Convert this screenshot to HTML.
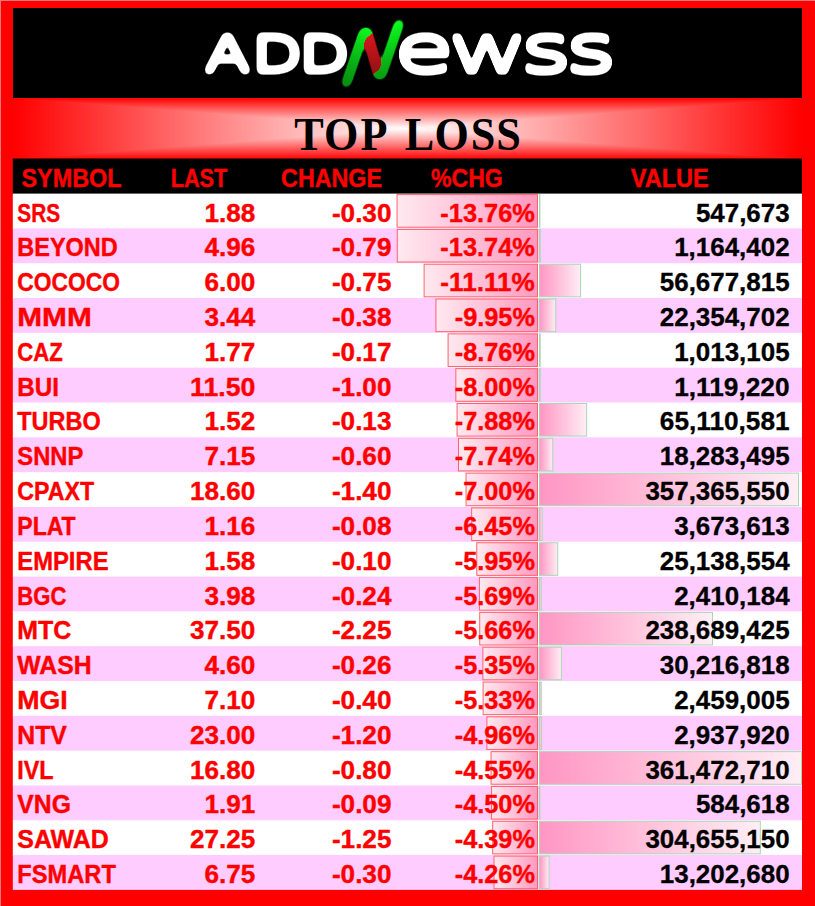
<!DOCTYPE html>
<html lang="en"><head><meta charset="utf-8"><title>ADDNewss - TOP LOSS</title>
<style>
html,body{margin:0;padding:0;background:#fe0000;}
body{width:815px;height:906px;overflow:hidden;}
svg{display:block;}
.c{font-family:"Liberation Sans",Arial,sans-serif;font-weight:bold;font-size:25.3px;}
.r{fill:#ff0000;stroke:#ff0000;stroke-width:0.4px;}.k{fill:#000;stroke:#000;stroke-width:0.3px;}
.t{font-family:"Liberation Serif","Times New Roman",serif;font-weight:bold;}
</style></head><body>
<svg width="815" height="906" viewBox="0 0 815 906">
<defs>
<linearGradient id="gh" x1="0" y1="0" x2="1" y2="0"><stop offset="0" stop-color="#ff0000"/><stop offset="0.5" stop-color="#ffffff"/><stop offset="1" stop-color="#ff0000"/></linearGradient>
<linearGradient id="gv" x1="0" y1="0" x2="0" y2="1"><stop offset="0" stop-color="#ff0000"/><stop offset="0.5" stop-color="#ffffff"/><stop offset="1" stop-color="#ff0000"/></linearGradient>
<linearGradient id="pb" x1="0" y1="0" x2="1" y2="0"><stop offset="0" stop-color="#ffe9f0"/><stop offset="1" stop-color="#ff99c0"/></linearGradient>
<linearGradient id="vb" x1="0" y1="0" x2="1" y2="0"><stop offset="0" stop-color="#ff96c3"/><stop offset="1" stop-color="#ffeef5"/></linearGradient>
<linearGradient id="ng" gradientUnits="userSpaceOnUse" x1="0" y1="0" x2="100" y2="0"><stop offset="0" stop-color="#10f01a"/><stop offset="0.16" stop-color="#10f01a"/><stop offset="0.175" stop-color="#eb1a2b"/><stop offset="0.365" stop-color="#eb1a2b"/><stop offset="0.38" stop-color="#10f01a"/><stop offset="1" stop-color="#10f01a"/></linearGradient>
<filter id="fata" filterUnits="userSpaceOnUse" x="190" y="10" width="170" height="86" color-interpolation-filters="sRGB"><feGaussianBlur in="SourceGraphic" stdDeviation="2.2 2.7"/><feComponentTransfer><feFuncA type="linear" slope="10" intercept="-0.78"/></feComponentTransfer></filter>
<filter id="fate" filterUnits="userSpaceOnUse" x="385" y="10" width="245" height="86" color-interpolation-filters="sRGB"><feGaussianBlur in="SourceGraphic" stdDeviation="1.35 2.4"/><feComponentTransfer><feFuncA type="linear" slope="10" intercept="-0.78"/></feComponentTransfer></filter>
<filter id="fatn" filterUnits="userSpaceOnUse" x="320" y="8" width="110" height="90" color-interpolation-filters="sRGB"><feGaussianBlur in="SourceGraphic" stdDeviation="3" result="b"/><feComponentTransfer in="b" result="c"><feFuncR type="table" tableValues="0.05 0.05 0.05 0.05 0.05 0.05 0.05 0.05 0.92 0.92 0.92 0.92 0.92 0.92 0.92 0.92 0.92 0.92 0.92 0.92 0.92"/><feFuncG type="table" tableValues="0.10 0.10 0.10 0.10 0.10 0.10 0.10 0.10 0.10 0.10 0.10 0.10 0.10 1.0 1.0 1.0 1.0 1.0 1.0 1.0 1.0"/><feFuncB type="linear" slope="0" intercept="0.12"/><feFuncA type="linear" slope="10" intercept="-0.98"/></feComponentTransfer><feDiffuseLighting in="b" surfaceScale="0" diffuseConstant="1.25" lighting-color="#ffffff" result="L"><fePointLight x="375" y="-10" z="50"/></feDiffuseLighting><feComposite in="c" in2="L" operator="arithmetic" k1="1" k2="0" k3="0" k4="0"/></filter>
</defs>
<rect width="815" height="906" fill="#fe0000"/>
<rect width="815" height="1" fill="#ec7878"/><rect width="1" height="906" fill="#ec7878"/>
<rect x="13" y="8" width="789" height="90" fill="#000"/>
<g filter="url(#fata)" fill="#fff" font-family="&quot;DejaVu Sans&quot;,&quot;Liberation Sans&quot;,sans-serif" font-weight="200">
<text transform="translate(0,71.3) scale(1.33,1)" x="154.59 189.7 225.26" y="0" font-size="48.4" stroke="#fff" stroke-width="1.5" stroke-linejoin="round">ADD</text>
</g>
<g filter="url(#fatn)" font-family="&quot;DejaVu Sans&quot;,&quot;Liberation Sans&quot;,sans-serif" font-weight="200">
<text transform="matrix(1.1089 -0.2764 -0.344 1 333.58 88.32)" x="0" y="0" font-size="74.9" fill="url(#ng)">N</text>
</g>
<g filter="url(#fate)" fill="#fff" font-family="&quot;DejaVu Sans&quot;,&quot;Liberation Sans&quot;,sans-serif" font-weight="200">
<text transform="translate(0,70.5) scale(1.585,1)" x="248.58 282.78 328.39 356.72" y="0" font-size="61.8" stroke="#fff" stroke-width="1.5" stroke-linejoin="round">ewss</text>
</g>
<g>
<g style="isolation:isolate"><rect x="13" y="98" width="789" height="61.3" fill="url(#gh)"/>
<rect x="13" y="98" width="789" height="61.3" fill="url(#gv)" style="mix-blend-mode:darken"/></g>
<text class="t" fill="#000" transform="translate(0,150.1) scale(0.96,1.025)" x="306.46 337.4 375.47 408.33 421.51 452.71 490.36 517.03" y="0" font-size="46">TOP LOSS</text>
</g>
<rect x="12.8" y="158.5" width="789.2" height="35.9" fill="#000"/>
<text class="c r" x="21.43" y="186.8" textLength="100.13" lengthAdjust="spacingAndGlyphs">SYMBOL</text>
<text class="c r" x="170.66" y="186.8" textLength="56.69" lengthAdjust="spacingAndGlyphs">LAST</text>
<text class="c r" x="281.09" y="186.8" textLength="100.83" lengthAdjust="spacingAndGlyphs">CHANGE</text>
<text class="c r" x="431.03" y="186.8" textLength="71.73" lengthAdjust="spacingAndGlyphs">%CHG</text>
<text class="c r" x="630.78" y="186.8" textLength="78.03" lengthAdjust="spacingAndGlyphs">VALUE</text>
<g>
<rect x="12.8" y="193.6" width="789.2" height="35.61" fill="#ffffff"/>
<rect x="397.05" y="194.6" width="140.45" height="32.61" fill="url(#pb)" stroke="#ff626a" stroke-width="1"/>
<rect x="539.5" y="194.6" width="0.4" height="32.61" fill="url(#vb)" stroke="#a9d8b4" stroke-width="1"/>
<text class="c r" x="17.3" y="221.6" textLength="42.84" lengthAdjust="spacingAndGlyphs">SRS</text>
<text class="c r" x="204.53" y="221.6" textLength="50.77" lengthAdjust="spacingAndGlyphs">1.88</text>
<text class="c r" x="331.94" y="221.6" textLength="59.46" lengthAdjust="spacingAndGlyphs">-0.30</text>
<text class="c r" x="440.34" y="221.6" textLength="94.56" lengthAdjust="spacingAndGlyphs">-13.76%</text>
<text class="c k" x="695.91" y="221.6" textLength="93.69" lengthAdjust="spacingAndGlyphs">547,673</text>
</g>
<g>
<rect x="12.8" y="228.41" width="789.2" height="35.61" fill="#ffccff"/>
<rect x="397.25" y="229.41" width="140.25" height="32.61" fill="url(#pb)" stroke="#ff626a" stroke-width="1"/>
<rect x="539.5" y="229.41" width="0.84" height="32.61" fill="url(#vb)" stroke="#a9d8b4" stroke-width="1"/>
<text class="c r" x="17.3" y="256.41" textLength="100.37" lengthAdjust="spacingAndGlyphs">BEYOND</text>
<text class="c r" x="204.53" y="256.41" textLength="50.77" lengthAdjust="spacingAndGlyphs">4.96</text>
<text class="c r" x="331.94" y="256.41" textLength="59.46" lengthAdjust="spacingAndGlyphs">-0.79</text>
<text class="c r" x="440.34" y="256.41" textLength="94.56" lengthAdjust="spacingAndGlyphs">-13.74%</text>
<text class="c k" x="674.2" y="256.41" textLength="115.4" lengthAdjust="spacingAndGlyphs">1,164,402</text>
</g>
<g>
<rect x="12.8" y="263.23" width="789.2" height="35.61" fill="#ffffff"/>
<rect x="424.1" y="264.23" width="113.4" height="32.61" fill="url(#pb)" stroke="#ff626a" stroke-width="1"/>
<rect x="539.5" y="264.23" width="41.08" height="32.61" fill="url(#vb)" stroke="#a9d8b4" stroke-width="1"/>
<text class="c r" x="17.3" y="291.23" textLength="102.67" lengthAdjust="spacingAndGlyphs">COCOCO</text>
<text class="c r" x="204.53" y="291.23" textLength="50.77" lengthAdjust="spacingAndGlyphs">6.00</text>
<text class="c r" x="331.94" y="291.23" textLength="59.46" lengthAdjust="spacingAndGlyphs">-0.75</text>
<text class="c r" x="440.34" y="291.23" textLength="94.56" lengthAdjust="spacingAndGlyphs">-11.11%</text>
<text class="c k" x="659.8" y="291.23" textLength="129.8" lengthAdjust="spacingAndGlyphs">56,677,815</text>
</g>
<g>
<rect x="12.8" y="298.04" width="789.2" height="35.61" fill="#ffccff"/>
<rect x="435.94" y="299.04" width="101.56" height="32.61" fill="url(#pb)" stroke="#ff626a" stroke-width="1"/>
<rect x="539.5" y="299.04" width="16.2" height="32.61" fill="url(#vb)" stroke="#a9d8b4" stroke-width="1"/>
<text class="c r" x="17.3" y="326.04" textLength="74.47" lengthAdjust="spacingAndGlyphs">MMM</text>
<text class="c r" x="204.53" y="326.04" textLength="50.77" lengthAdjust="spacingAndGlyphs">3.44</text>
<text class="c r" x="331.94" y="326.04" textLength="59.46" lengthAdjust="spacingAndGlyphs">-0.38</text>
<text class="c r" x="454.73" y="326.04" textLength="80.17" lengthAdjust="spacingAndGlyphs">-9.95%</text>
<text class="c k" x="659.8" y="326.04" textLength="129.8" lengthAdjust="spacingAndGlyphs">22,354,702</text>
</g>
<g>
<rect x="12.8" y="332.86" width="789.2" height="35.61" fill="#ffffff"/>
<rect x="448.09" y="333.86" width="89.41" height="32.61" fill="url(#pb)" stroke="#ff626a" stroke-width="1"/>
<rect x="539.5" y="333.86" width="0.73" height="32.61" fill="url(#vb)" stroke="#a9d8b4" stroke-width="1"/>
<text class="c r" x="17.3" y="360.86" textLength="45.48" lengthAdjust="spacingAndGlyphs">CAZ</text>
<text class="c r" x="204.53" y="360.86" textLength="50.77" lengthAdjust="spacingAndGlyphs">1.77</text>
<text class="c r" x="331.94" y="360.86" textLength="59.46" lengthAdjust="spacingAndGlyphs">-0.17</text>
<text class="c r" x="454.73" y="360.86" textLength="80.17" lengthAdjust="spacingAndGlyphs">-8.76%</text>
<text class="c k" x="674.2" y="360.86" textLength="115.4" lengthAdjust="spacingAndGlyphs">1,013,105</text>
</g>
<g>
<rect x="12.8" y="367.67" width="789.2" height="35.61" fill="#ffccff"/>
<rect x="455.84" y="368.67" width="81.66" height="32.61" fill="url(#pb)" stroke="#ff626a" stroke-width="1"/>
<rect x="539.5" y="368.67" width="0.81" height="32.61" fill="url(#vb)" stroke="#a9d8b4" stroke-width="1"/>
<text class="c r" x="17.3" y="395.67" textLength="41.71" lengthAdjust="spacingAndGlyphs">BUI</text>
<text class="c r" x="190.14" y="395.67" textLength="65.16" lengthAdjust="spacingAndGlyphs">11.50</text>
<text class="c r" x="331.94" y="395.67" textLength="59.46" lengthAdjust="spacingAndGlyphs">-1.00</text>
<text class="c r" x="454.73" y="395.67" textLength="80.17" lengthAdjust="spacingAndGlyphs">-8.00%</text>
<text class="c k" x="674.2" y="395.67" textLength="115.4" lengthAdjust="spacingAndGlyphs">1,119,220</text>
</g>
<g>
<rect x="12.8" y="402.49" width="789.2" height="35.61" fill="#ffffff"/>
<rect x="457.07" y="403.49" width="80.43" height="32.61" fill="url(#pb)" stroke="#ff626a" stroke-width="1"/>
<rect x="539.5" y="403.49" width="47.19" height="32.61" fill="url(#vb)" stroke="#a9d8b4" stroke-width="1"/>
<text class="c r" x="17.3" y="430.49" textLength="83.38" lengthAdjust="spacingAndGlyphs">TURBO</text>
<text class="c r" x="204.53" y="430.49" textLength="50.77" lengthAdjust="spacingAndGlyphs">1.52</text>
<text class="c r" x="331.94" y="430.49" textLength="59.46" lengthAdjust="spacingAndGlyphs">-0.13</text>
<text class="c r" x="454.73" y="430.49" textLength="80.17" lengthAdjust="spacingAndGlyphs">-7.88%</text>
<text class="c k" x="659.8" y="430.49" textLength="129.8" lengthAdjust="spacingAndGlyphs">65,110,581</text>
</g>
<g>
<rect x="12.8" y="437.3" width="789.2" height="35.61" fill="#ffccff"/>
<rect x="458.5" y="438.3" width="79" height="32.61" fill="url(#pb)" stroke="#ff626a" stroke-width="1"/>
<rect x="539.5" y="438.3" width="13.25" height="32.61" fill="url(#vb)" stroke="#a9d8b4" stroke-width="1"/>
<text class="c r" x="17.3" y="465.3" textLength="66.01" lengthAdjust="spacingAndGlyphs">SNNP</text>
<text class="c r" x="204.53" y="465.3" textLength="50.77" lengthAdjust="spacingAndGlyphs">7.15</text>
<text class="c r" x="331.94" y="465.3" textLength="59.46" lengthAdjust="spacingAndGlyphs">-0.60</text>
<text class="c r" x="454.73" y="465.3" textLength="80.17" lengthAdjust="spacingAndGlyphs">-7.74%</text>
<text class="c k" x="659.8" y="465.3" textLength="129.8" lengthAdjust="spacingAndGlyphs">18,283,495</text>
</g>
<g>
<rect x="12.8" y="472.12" width="789.2" height="35.61" fill="#ffffff"/>
<rect x="466.05" y="473.12" width="71.45" height="32.61" fill="url(#pb)" stroke="#ff626a" stroke-width="1"/>
<rect x="539.5" y="473.12" width="259.02" height="32.61" fill="url(#vb)" stroke="#a9d8b4" stroke-width="1"/>
<text class="c r" x="17.3" y="500.12" textLength="76.74" lengthAdjust="spacingAndGlyphs">CPAXT</text>
<text class="c r" x="190.14" y="500.12" textLength="65.16" lengthAdjust="spacingAndGlyphs">18.60</text>
<text class="c r" x="331.94" y="500.12" textLength="59.46" lengthAdjust="spacingAndGlyphs">-1.40</text>
<text class="c r" x="454.73" y="500.12" textLength="80.17" lengthAdjust="spacingAndGlyphs">-7.00%</text>
<text class="c k" x="645.41" y="500.12" textLength="144.19" lengthAdjust="spacingAndGlyphs">357,365,550</text>
</g>
<g>
<rect x="12.8" y="506.93" width="789.2" height="35.61" fill="#ffccff"/>
<rect x="471.66" y="507.93" width="65.84" height="32.61" fill="url(#pb)" stroke="#ff626a" stroke-width="1"/>
<rect x="539.5" y="507.93" width="2.66" height="32.61" fill="url(#vb)" stroke="#a9d8b4" stroke-width="1"/>
<text class="c r" x="17.3" y="534.93" textLength="58.38" lengthAdjust="spacingAndGlyphs">PLAT</text>
<text class="c r" x="204.53" y="534.93" textLength="50.77" lengthAdjust="spacingAndGlyphs">1.16</text>
<text class="c r" x="331.94" y="534.93" textLength="59.46" lengthAdjust="spacingAndGlyphs">-0.08</text>
<text class="c r" x="454.73" y="534.93" textLength="80.17" lengthAdjust="spacingAndGlyphs">-6.45%</text>
<text class="c k" x="674.2" y="534.93" textLength="115.4" lengthAdjust="spacingAndGlyphs">3,673,613</text>
</g>
<g>
<rect x="12.8" y="541.75" width="789.2" height="35.61" fill="#ffffff"/>
<rect x="476.77" y="542.75" width="60.73" height="32.61" fill="url(#pb)" stroke="#ff626a" stroke-width="1"/>
<rect x="539.5" y="542.75" width="18.22" height="32.61" fill="url(#vb)" stroke="#a9d8b4" stroke-width="1"/>
<text class="c r" x="17.3" y="569.75" textLength="91.23" lengthAdjust="spacingAndGlyphs">EMPIRE</text>
<text class="c r" x="204.53" y="569.75" textLength="50.77" lengthAdjust="spacingAndGlyphs">1.58</text>
<text class="c r" x="331.94" y="569.75" textLength="59.46" lengthAdjust="spacingAndGlyphs">-0.10</text>
<text class="c r" x="454.73" y="569.75" textLength="80.17" lengthAdjust="spacingAndGlyphs">-5.95%</text>
<text class="c k" x="659.8" y="569.75" textLength="129.8" lengthAdjust="spacingAndGlyphs">25,138,554</text>
</g>
<g>
<rect x="12.8" y="576.56" width="789.2" height="35.61" fill="#ffccff"/>
<rect x="479.42" y="577.56" width="58.08" height="32.61" fill="url(#pb)" stroke="#ff626a" stroke-width="1"/>
<rect x="539.5" y="577.56" width="1.75" height="32.61" fill="url(#vb)" stroke="#a9d8b4" stroke-width="1"/>
<text class="c r" x="17.3" y="604.56" textLength="49.05" lengthAdjust="spacingAndGlyphs">BGC</text>
<text class="c r" x="204.53" y="604.56" textLength="50.77" lengthAdjust="spacingAndGlyphs">3.98</text>
<text class="c r" x="331.94" y="604.56" textLength="59.46" lengthAdjust="spacingAndGlyphs">-0.24</text>
<text class="c r" x="454.73" y="604.56" textLength="80.17" lengthAdjust="spacingAndGlyphs">-5.69%</text>
<text class="c k" x="674.2" y="604.56" textLength="115.4" lengthAdjust="spacingAndGlyphs">2,410,184</text>
</g>
<g>
<rect x="12.8" y="611.38" width="789.2" height="35.61" fill="#ffffff"/>
<rect x="479.73" y="612.38" width="57.77" height="32.61" fill="url(#pb)" stroke="#ff626a" stroke-width="1"/>
<rect x="539.5" y="612.38" width="173.01" height="32.61" fill="url(#vb)" stroke="#a9d8b4" stroke-width="1"/>
<text class="c r" x="17.3" y="639.38" textLength="53.92" lengthAdjust="spacingAndGlyphs">MTC</text>
<text class="c r" x="190.14" y="639.38" textLength="65.16" lengthAdjust="spacingAndGlyphs">37.50</text>
<text class="c r" x="331.94" y="639.38" textLength="59.46" lengthAdjust="spacingAndGlyphs">-2.25</text>
<text class="c r" x="454.73" y="639.38" textLength="80.17" lengthAdjust="spacingAndGlyphs">-5.66%</text>
<text class="c k" x="645.41" y="639.38" textLength="144.19" lengthAdjust="spacingAndGlyphs">238,689,425</text>
</g>
<g>
<rect x="12.8" y="646.19" width="789.2" height="35.61" fill="#ffccff"/>
<rect x="482.89" y="647.19" width="54.61" height="32.61" fill="url(#pb)" stroke="#ff626a" stroke-width="1"/>
<rect x="539.5" y="647.19" width="21.9" height="32.61" fill="url(#vb)" stroke="#a9d8b4" stroke-width="1"/>
<text class="c r" x="17.3" y="674.19" textLength="74.24" lengthAdjust="spacingAndGlyphs">WASH</text>
<text class="c r" x="204.53" y="674.19" textLength="50.77" lengthAdjust="spacingAndGlyphs">4.60</text>
<text class="c r" x="331.94" y="674.19" textLength="59.46" lengthAdjust="spacingAndGlyphs">-0.26</text>
<text class="c r" x="454.73" y="674.19" textLength="80.17" lengthAdjust="spacingAndGlyphs">-5.35%</text>
<text class="c k" x="659.8" y="674.19" textLength="129.8" lengthAdjust="spacingAndGlyphs">30,216,818</text>
</g>
<g>
<rect x="12.8" y="681.01" width="789.2" height="35.61" fill="#ffffff"/>
<rect x="483.1" y="682.01" width="54.4" height="32.61" fill="url(#pb)" stroke="#ff626a" stroke-width="1"/>
<rect x="539.5" y="682.01" width="1.78" height="32.61" fill="url(#vb)" stroke="#a9d8b4" stroke-width="1"/>
<text class="c r" x="17.3" y="709.01" textLength="50.49" lengthAdjust="spacingAndGlyphs">MGI</text>
<text class="c r" x="204.53" y="709.01" textLength="50.77" lengthAdjust="spacingAndGlyphs">7.10</text>
<text class="c r" x="331.94" y="709.01" textLength="59.46" lengthAdjust="spacingAndGlyphs">-0.40</text>
<text class="c r" x="454.73" y="709.01" textLength="80.17" lengthAdjust="spacingAndGlyphs">-5.33%</text>
<text class="c k" x="674.2" y="709.01" textLength="115.4" lengthAdjust="spacingAndGlyphs">2,459,005</text>
</g>
<g>
<rect x="12.8" y="715.82" width="789.2" height="35.61" fill="#ffccff"/>
<rect x="486.87" y="716.82" width="50.63" height="32.61" fill="url(#pb)" stroke="#ff626a" stroke-width="1"/>
<rect x="539.5" y="716.82" width="2.13" height="32.61" fill="url(#vb)" stroke="#a9d8b4" stroke-width="1"/>
<text class="c r" x="17.3" y="743.82" textLength="49.53" lengthAdjust="spacingAndGlyphs">NTV</text>
<text class="c r" x="190.14" y="743.82" textLength="65.16" lengthAdjust="spacingAndGlyphs">23.00</text>
<text class="c r" x="331.94" y="743.82" textLength="59.46" lengthAdjust="spacingAndGlyphs">-1.20</text>
<text class="c r" x="454.73" y="743.82" textLength="80.17" lengthAdjust="spacingAndGlyphs">-4.96%</text>
<text class="c k" x="674.2" y="743.82" textLength="115.4" lengthAdjust="spacingAndGlyphs">2,937,920</text>
</g>
<g>
<rect x="12.8" y="750.64" width="789.2" height="35.61" fill="#ffffff"/>
<rect x="491.06" y="751.64" width="46.44" height="32.61" fill="url(#pb)" stroke="#ff626a" stroke-width="1"/>
<rect x="539.5" y="751.64" width="262" height="32.61" fill="url(#vb)" stroke="#a9d8b4" stroke-width="1"/>
<text class="c r" x="17.3" y="778.64" textLength="36.32" lengthAdjust="spacingAndGlyphs">IVL</text>
<text class="c r" x="190.14" y="778.64" textLength="65.16" lengthAdjust="spacingAndGlyphs">16.80</text>
<text class="c r" x="331.94" y="778.64" textLength="59.46" lengthAdjust="spacingAndGlyphs">-0.80</text>
<text class="c r" x="454.73" y="778.64" textLength="80.17" lengthAdjust="spacingAndGlyphs">-4.55%</text>
<text class="c k" x="645.41" y="778.64" textLength="144.19" lengthAdjust="spacingAndGlyphs">361,472,710</text>
</g>
<g>
<rect x="12.8" y="785.46" width="789.2" height="35.61" fill="#ffccff"/>
<rect x="491.57" y="786.46" width="45.93" height="32.61" fill="url(#pb)" stroke="#ff626a" stroke-width="1"/>
<rect x="539.5" y="786.46" width="0.42" height="32.61" fill="url(#vb)" stroke="#a9d8b4" stroke-width="1"/>
<text class="c r" x="17.3" y="813.46" textLength="53.57" lengthAdjust="spacingAndGlyphs">VNG</text>
<text class="c r" x="204.53" y="813.46" textLength="50.77" lengthAdjust="spacingAndGlyphs">1.91</text>
<text class="c r" x="331.94" y="813.46" textLength="59.46" lengthAdjust="spacingAndGlyphs">-0.09</text>
<text class="c r" x="454.73" y="813.46" textLength="80.17" lengthAdjust="spacingAndGlyphs">-4.50%</text>
<text class="c k" x="695.91" y="813.46" textLength="93.69" lengthAdjust="spacingAndGlyphs">584,618</text>
</g>
<g>
<rect x="12.8" y="820.27" width="789.2" height="35.61" fill="#ffffff"/>
<rect x="492.69" y="821.27" width="44.81" height="32.61" fill="url(#pb)" stroke="#ff626a" stroke-width="1"/>
<rect x="539.5" y="821.27" width="220.82" height="32.61" fill="url(#vb)" stroke="#a9d8b4" stroke-width="1"/>
<text class="c r" x="17.3" y="848.27" textLength="91.43" lengthAdjust="spacingAndGlyphs">SAWAD</text>
<text class="c r" x="190.14" y="848.27" textLength="65.16" lengthAdjust="spacingAndGlyphs">27.25</text>
<text class="c r" x="331.94" y="848.27" textLength="59.46" lengthAdjust="spacingAndGlyphs">-1.25</text>
<text class="c r" x="454.73" y="848.27" textLength="80.17" lengthAdjust="spacingAndGlyphs">-4.39%</text>
<text class="c k" x="645.41" y="848.27" textLength="144.19" lengthAdjust="spacingAndGlyphs">304,655,150</text>
</g>
<g>
<rect x="12.8" y="855.08" width="789.2" height="34.81" fill="#ffccff"/>
<rect x="494.02" y="856.08" width="43.48" height="32.61" fill="url(#pb)" stroke="#ff626a" stroke-width="1"/>
<rect x="539.5" y="856.08" width="9.57" height="32.61" fill="url(#vb)" stroke="#a9d8b4" stroke-width="1"/>
<text class="c r" x="17.3" y="883.08" textLength="98.54" lengthAdjust="spacingAndGlyphs">FSMART</text>
<text class="c r" x="204.53" y="883.08" textLength="50.77" lengthAdjust="spacingAndGlyphs">6.75</text>
<text class="c r" x="331.94" y="883.08" textLength="59.46" lengthAdjust="spacingAndGlyphs">-0.30</text>
<text class="c r" x="454.73" y="883.08" textLength="80.17" lengthAdjust="spacingAndGlyphs">-4.26%</text>
<text class="c k" x="659.8" y="883.08" textLength="129.8" lengthAdjust="spacingAndGlyphs">13,202,680</text>
</g>
</svg>
</body></html>
